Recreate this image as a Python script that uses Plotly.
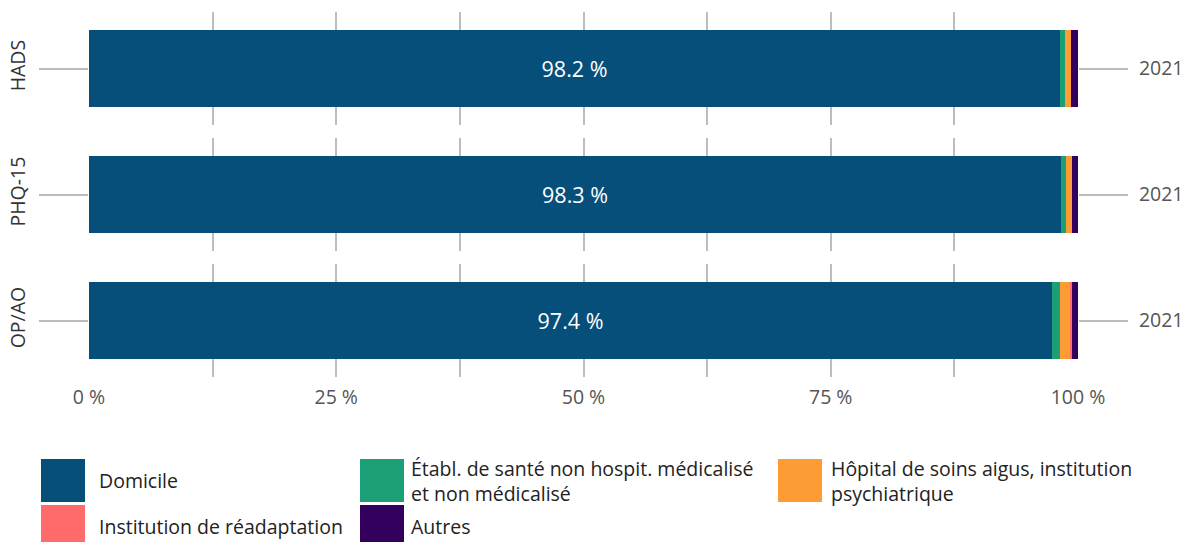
import plotly.graph_objects as go

# ---- data ----
groups = ["HADS", "PHQ-15", "OP/AO"]
year_label = "2021"
series = [
    "Domicile",
    "Établ. de santé non hospit. médicalisé<br>et non médicalisé",
    "Hôpital de soins aigus, institution<br>psychiatrique",
    "Institution de réadaptation",
    "Autres",
]
values = {
    "HADS":   [98.2, 0.5, 0.6, 0.0, 0.7],
    "PHQ-15": [98.3, 0.5, 0.6, 0.0, 0.6],
    "OP/AO":  [97.4, 0.8, 1.0, 0.2, 0.6],
}
x_ticks = [0, 25, 50, 75, 100]

# ---- styles ----
colors = ["#064f7b", "#1c9e77", "#fd9b35", "#ff6b6b", "#33005e"]
FONT = "Open Sans"
GRID = "#bdbdbd"
FS = 19.5

W, H = 1190, 542
ML, MR, MT, MB = 89, 112, 12, 165
plot_w = W - ML - MR
plot_h = H - MT - MB

def py2paper(py):
    return (H - MB - py) / plot_h

def px2paper(px):
    return (px - ML) / plot_w

sub_h = 113
gap = 13
fig = go.Figure()
layout = {}
for gi, g in enumerate(groups):
    n = gi + 1
    xa = "x" if n == 1 else f"x{n}"
    ya = "y" if n == 1 else f"y{n}"
    ra = f"y{len(groups) + n}"
    top_px = MT + gi * (sub_h + gap)
    dom = [py2paper(top_px + sub_h), py2paper(top_px)]
    for si, s in enumerate(series):
        v = values[g][si]
        fig.add_trace(go.Bar(
            x=[v], y=[0], orientation="h", name=s,
            marker=dict(color=colors[si], line=dict(width=0)),
            xaxis=xa, yaxis=ya, showlegend=False,
            text=[f"{v:.1f} %"] if si == 0 else None,
            textposition="inside" if si == 0 else "none",
            insidetextanchor="middle",
            textfont=dict(color="white", size=21.5, family=FONT),
            hovertemplate=f"{g}: %{{x:.1f}} %<extra></extra>",
        ))
    # invisible trace so that the right-hand (year) axis is drawn
    fig.add_trace(go.Scatter(
        x=[0], y=[0], xaxis=xa, yaxis=ra, mode="markers",
        marker=dict(opacity=0, size=1), showlegend=False, hoverinfo="skip",
    ))
    xkey = "xaxis" if n == 1 else f"xaxis{n}"
    ykey = "yaxis" if n == 1 else f"yaxis{n}"
    layout[xkey] = dict(
        domain=[0, 1], anchor=ya, range=[0, 100],
        tickmode="array", tickvals=x_ticks,
        ticktext=[f"{t} %" for t in x_ticks],
        showticklabels=(n == len(groups)),
        ticklabelstandoff=6, automargin=False,
        showgrid=True, gridcolor=GRID, gridwidth=2,
        minor=dict(dtick=12.5, tick0=0, showgrid=True, gridcolor=GRID, gridwidth=2),
        zeroline=False, showline=False, ticks="",
        tickfont=dict(size=FS, color="#555555", family=FONT),
        fixedrange=True,
    )
    layout[ykey] = dict(
        domain=dom, anchor=xa, range=[-0.743, 0.743],
        tickvals=[0], ticktext=[g], tickangle=-90,
        ticks="outside", ticklen=49, tickcolor=GRID, tickwidth=2,
        ticklabelstandoff=6, automargin=False,
        showgrid=False, zeroline=False, showline=False,
        tickfont=dict(size=FS, color="#333333", family=FONT),
        fixedrange=True,
    )
    layout[f"yaxis{len(groups) + n}"] = dict(
        overlaying=ya, side="right", anchor=xa, range=[-0.743, 0.743],
        tickvals=[0], ticktext=[year_label],
        ticks="outside", ticklen=49, tickcolor=GRID, tickwidth=2,
        ticklabelstandoff=7, automargin=False,
        showgrid=False, zeroline=False, showline=False,
        tickfont=dict(size=FS, color="#555555", family=FONT),
        fixedrange=True,
    )

# ---- custom legend (3 columns, row-major) ----
col_sq = [41, 360, 778]
col_txt = [97, 409, 829]
row_top = [459, 505]
sq_w, sq_h = 44, 43
shapes = []
annotations = []
for i, s in enumerate(series):
    r, c = divmod(i, 3)
    x0, y0 = col_sq[c], row_top[r]
    shapes.append(dict(
        type="rect", xref="paper", yref="paper",
        x0=px2paper(x0), x1=px2paper(x0 + sq_w),
        y0=py2paper(y0 + sq_h), y1=py2paper(y0),
        fillcolor=colors[i], line=dict(width=0), layer="above",
    ))
    annotations.append(dict(
        xref="paper", yref="paper",
        x=px2paper(col_txt[c]), y=py2paper(y0 + sq_h / 2),
        xanchor="left", yanchor="middle", align="left",
        text=s, showarrow=False,
        font=dict(size=FS, color="#222222", family=FONT),
    ))

fig.update_layout(
    **layout,
    barmode="stack", bargap=0,
    width=W, height=H,
    margin=dict(l=ML, r=MR, t=MT, b=MB, pad=0, autoexpand=False),
    paper_bgcolor="white", plot_bgcolor="white",
    font=dict(family=FONT, size=FS, color="#333333"),
    showlegend=False,
    shapes=shapes, annotations=annotations,
)

fig.write_html(
    "out.html",
    config={"displayModeBar": False},
    post_script="document.body.style.margin='0';",
)
